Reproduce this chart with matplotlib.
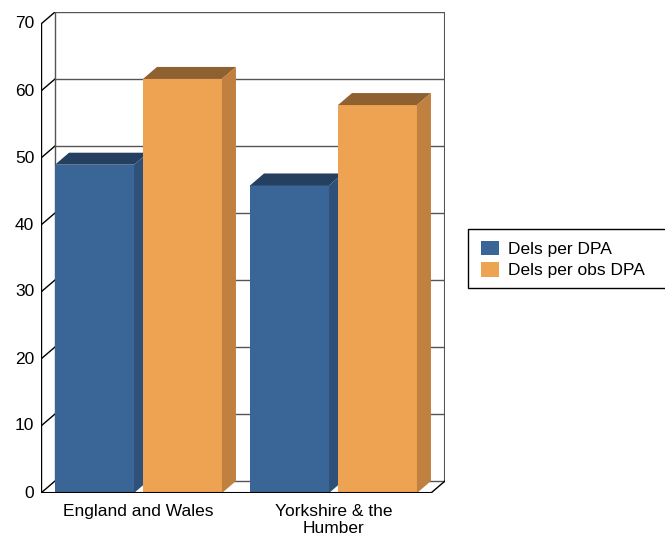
import matplotlib.pyplot as plt
from matplotlib.patches import Polygon, Rectangle, Patch

plt.rcParams['font.family'] = ['Liberation Sans', 'DejaVu Sans']

# data
regions = ["England and Wales", "Yorkshire & the\nHumber"]
series = ["Dels per DPA", "Dels per obs DPA"]
dels_per_dpa = [49.0, 45.9]
dels_per_obs_dpa = [61.8, 57.9]
y_ticks = [0, 10, 20, 30, 40, 50, 60, 70]

# colours: front, top, side
blue = ("#3a6597", "#243f5f", "#2f5079")
orange = ("#eea352", "#8f6030", "#bf8040")

fig = plt.figure(figsize=(6.65, 5.38), dpi=100)
W, H = 665, 538
ax = fig.add_axes([41 / W, (H - 493) / H, (445 - 41) / W, (493 - 12) / H])
ax.set_axis_off()

dx = 14 / 195.0   # depth offset in x units
dy = 12 / 6.7     # depth offset in value units
x_lo, x_hi = -0.5, len(regions) - 0.5
ax.set_xlim(x_lo, x_hi + dx)
ax.set_ylim(0, y_ticks[-1] + dy)

# back wall, floor, grid
for v in y_ticks:
    ax.plot([x_lo + dx, x_hi + dx], [v + dy, v + dy], color="#555555", lw=1, zorder=1)
    ax.plot([x_lo, x_lo + dx], [v, v + dy], color="black", lw=1, zorder=1)
    ax.text(x_lo - 0.035, v, str(v), ha="right", va="center", fontsize=12.5)
ax.plot([x_lo + dx, x_lo + dx], [dy, y_ticks[-1] + dy], color="#555555", lw=1, zorder=1)
ax.plot([x_hi + dx, x_hi + dx], [dy, y_ticks[-1] + dy], color="#555555", lw=1.5, zorder=1)
ax.plot([x_lo, x_lo], [0, y_ticks[-1]], color="black", lw=1, zorder=1)
ax.plot([x_hi, x_hi + dx], [0, dy], color="black", lw=1, zorder=1)

# bars
bar_w = 0.405
gap = 0.046


def bar3d(x0, v, cols, z):
    front, top, side = cols
    ax.add_patch(Rectangle((x0, 0), bar_w, v, facecolor=front, edgecolor="none", zorder=z))
    ax.add_patch(Polygon([(x0, v), (x0 + bar_w, v), (x0 + bar_w + dx, v + dy), (x0 + dx, v + dy)],
                         closed=True, facecolor=top, edgecolor="none", zorder=z))
    ax.add_patch(Polygon([(x0 + bar_w, 0), (x0 + bar_w + dx, dy), (x0 + bar_w + dx, v + dy), (x0 + bar_w, v)],
                         closed=True, facecolor=side, edgecolor="none", zorder=z))


z = 2
for i in range(len(regions)):
    bar3d(i - gap / 2 - bar_w, dels_per_dpa[i], blue, z)
    z += 1
    bar3d(i + gap / 2, dels_per_obs_dpa[i], orange, z)
    z += 1

ax.plot([x_lo, x_hi], [0, 0], color="black", lw=1.5, zorder=10)

for i, name in enumerate(regions):
    ax.text(i, -1.6, name, ha="center", va="top", fontsize=12.5, linespacing=1.15)

# legend (box runs past the right edge, as in the original)
fig.add_artist(Rectangle((468 / W, (H - 288) / H), (670 - 468) / W, (288 - 229) / H,
                         transform=fig.transFigure, facecolor="white", edgecolor="black", lw=1))
handles = [Patch(facecolor=blue[0]), Patch(facecolor=orange[0])]
fig.legend(handles, series, loc="center left", bbox_to_anchor=(469 / W, (H - 259.5) / H),
           frameon=False, fontsize=12.5, handlelength=1.0, handleheight=0.9,
           handletextpad=0.55, labelspacing=0.3, borderpad=0.2)

fig.savefig("out.png", dpi=100)
